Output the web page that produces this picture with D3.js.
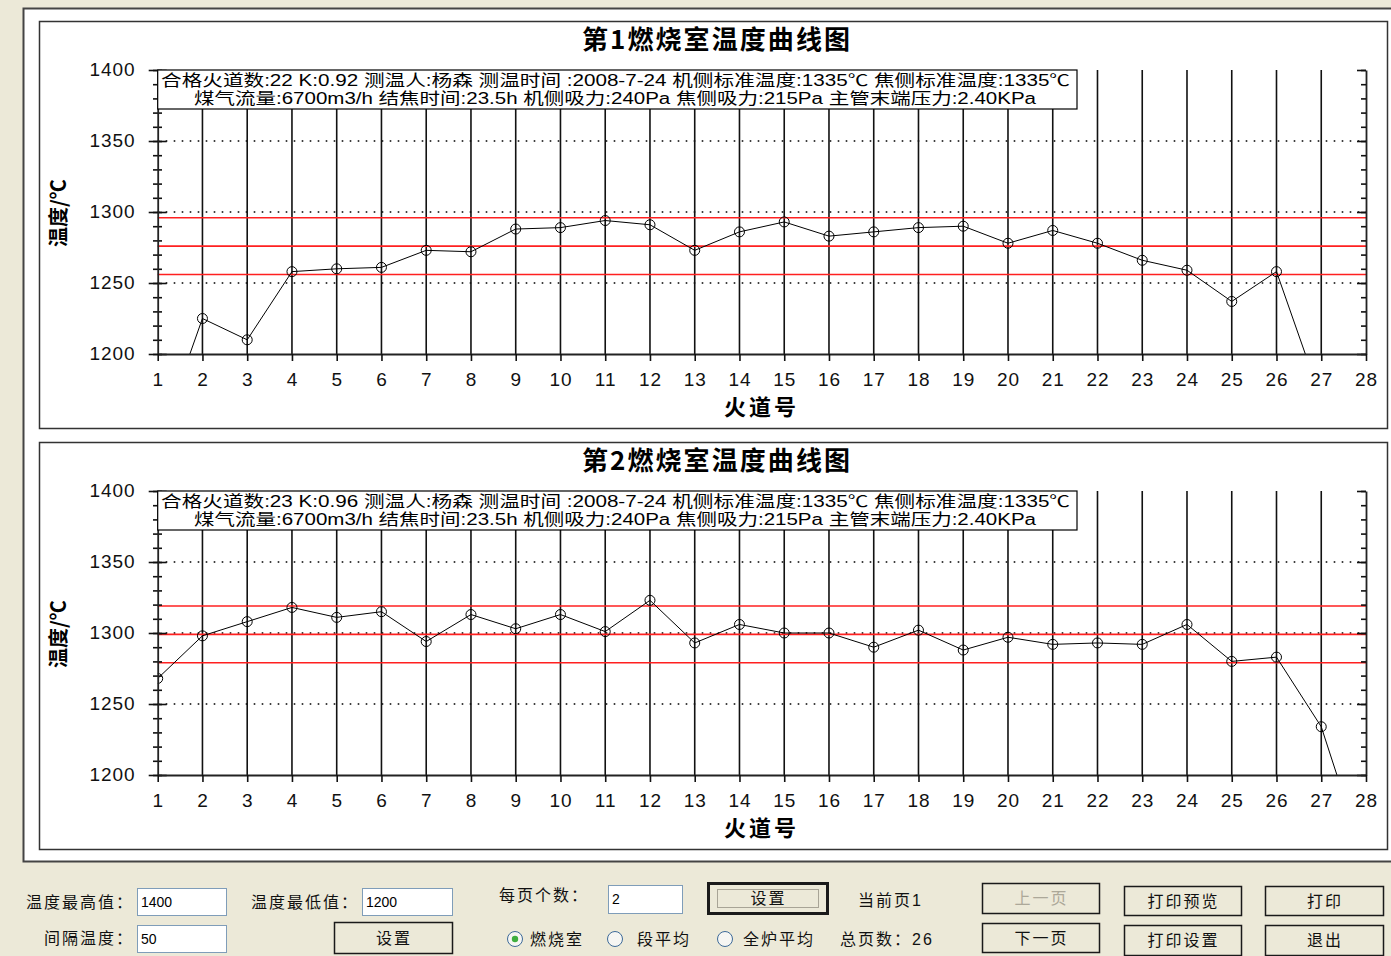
<!DOCTYPE html>
<html lang="zh-CN">
<head>
<meta charset="UTF-8">
<title>燃烧室温度曲线图</title>
<script src="https://cdn.jsdelivr.net/npm/d3@7"></script>
<style>
  body { margin: 0; background: #ECE9D8; overflow: hidden; }
  svg { display: block; }
  text { font-family: "Liberation Sans", Arial, "Noto Sans CJK SC", sans-serif; }
  .cjk { font-family: "Noto Sans CJK SC", sans-serif; }
</style>
</head>
<body>
<svg id="chart" width="1391" height="956"></svg>
<script>
// flue numbers on the x axis
const flueNos = [1, 2, 3, 4, 5, 6, 7, 8, 9, 10, 11, 12, 13, 14, 15, 16, 17, 18, 19, 20, 21, 22, 23, 24, 25, 26, 27, 28];

// measured temperatures (values below 1200 run off the plot)
const chamber1Temps = [1136, 1225, 1210, 1258, 1260, 1261, 1273, 1272, 1288, 1289, 1294, 1291, 1273, 1286,
                       1293, 1283, 1286, 1289, 1290, 1278, 1287, 1278, 1266, 1259, 1237, 1258, 1168];
const chamber2Temps = [1268, 1298, 1308, 1318, 1311, 1315, 1294, 1313, 1303, 1313, 1301, 1323, 1293, 1306,
                       1300, 1300, 1290, 1302, 1288, 1297, 1292, 1293, 1292, 1306, 1280, 1283, 1234, 1137];

// red limit lines (average +/- 20)
const chamber1Limits = [1256, 1276, 1296];
const chamber2Limits = [1279, 1299, 1319];

const yTickValues = [1200, 1250, 1300, 1350, 1400];
const gridValues = [1250, 1300, 1350];

const chamberTitles = ["第1燃烧室温度曲线图", "第2燃烧室温度曲线图"];
const chamber1Info = [
  "合格火道数:22  K:0.92 测温人:杨森 测温时间 :2008-7-24 机侧标准温度:1335℃ 焦侧标准温度:1335℃",
  "煤气流量:6700m3/h 结焦时间:23.5h 机侧吸力:240Pa 焦侧吸力:215Pa 主管末端压力:2.40KPa"
];
const chamber2Info = [
  "合格火道数:23  K:0.96 测温人:杨森 测温时间 :2008-7-24 机侧标准温度:1335℃ 焦侧标准温度:1335℃",
  "煤气流量:6700m3/h 结焦时间:23.5h 机侧吸力:240Pa 焦侧吸力:215Pa 主管末端压力:2.40KPa"
];

const svg = d3.select("#chart");

// outer white panel
svg.append("rect")
  .attr("x", 23.5).attr("y", 8.5)
  .attr("width", 1390).attr("height", 853)
  .attr("fill", "#fff").attr("stroke", "#444").attr("stroke-width", 2);

const minorTicks = d3.range(1200, 1401, 10);

function drawChamber(idx, oy, temps, limits, info) {
  const g = svg.append("g");
  const x = d3.scaleLinear().domain([1, 28]).range([157.7, 1366]);
  const y = d3.scaleLinear().domain([1200, 1400]).range([354 + oy, 70 + oy]);

  g.append("rect")
    .attr("x", 39.5).attr("y", 21.5 + oy)
    .attr("width", 1348).attr("height", 407)
    .attr("fill", "#fff").attr("stroke", "#333").attr("stroke-width", 1.5);

  g.append("text")
    .attr("class", "cjk")
    .attr("x", 716).attr("y", 49 + oy)
    .attr("text-anchor", "middle")
    .attr("font-size", 26).attr("font-weight", "bold")
    .attr("textLength", 268)
    .text(chamberTitles[idx]);

  g.append("text")
    .attr("class", "cjk")
    .attr("transform", `translate(66,${213 + oy}) rotate(-90)`)
    .attr("text-anchor", "middle")
    .attr("font-size", 20).attr("font-weight", "bold")
    .text("温度/℃");

  g.append("text")
    .attr("class", "cjk")
    .attr("x", 760).attr("y", 415 + oy)
    .attr("text-anchor", "middle")
    .attr("font-size", 22).attr("font-weight", "bold")
    .attr("textLength", 72)
    .text("火道号");

  const clipId = "clip" + idx;
  g.append("clipPath").attr("id", clipId)
    .append("rect")
    .attr("x", x(1)).attr("y", y(1400))
    .attr("width", x(28) - x(1)).attr("height", y(1200) - y(1400));

  // dotted horizontal grid
  g.selectAll(".hgrid").data(gridValues).join("line")
    .attr("x1", x(1)).attr("x2", x(28))
    .attr("y1", d => y(d)).attr("y2", d => y(d))
    .attr("stroke", "#000").attr("stroke-width", 1.6)
    .attr("stroke-dasharray", "1.6,6.4");

  // vertical grid at every flue
  g.selectAll(".vgrid").data(flueNos.slice(1, -1)).join("line")
    .attr("x1", d => x(d)).attr("x2", d => x(d))
    .attr("y1", y(1400)).attr("y2", y(1200))
    .attr("stroke", "#111").attr("stroke-width", 1.6);

  // red limit lines
  g.selectAll(".limit").data(limits).join("line")
    .attr("x1", x(1)).attr("x2", x(28))
    .attr("y1", d => y(d)).attr("y2", d => y(d))
    .attr("stroke", "#ff2020").attr("stroke-width", 1.6);

  const points = temps.map((t, i) => ({ flue: flueNos[i], temp: t }));
  const plot = g.append("g").attr("clip-path", `url(#${clipId})`);
  plot.append("path")
    .datum(points)
    .attr("fill", "none").attr("stroke", "#000").attr("stroke-width", 1)
    .attr("d", d3.line().x(d => x(d.flue)).y(d => y(d.temp)));
  plot.selectAll("circle").data(points).join("circle")
    .attr("cx", d => x(d.flue)).attr("cy", d => y(d.temp))
    .attr("r", 5)
    .attr("fill", "none").attr("stroke", "#000").attr("stroke-width", 1);

  const styleAxis = sel => {
    sel.selectAll("line").attr("stroke", "#111").attr("stroke-width", 1.6);
    sel.selectAll("path").attr("stroke", "#222").attr("stroke-width", 1.8);
    sel.selectAll("text").attr("font-family", "Liberation Sans, Arial, sans-serif")
      .attr("font-size", 19).attr("letter-spacing", 1).attr("fill", "#111");
  };

  // left axis: minor ticks, major ticks both sides, labels
  g.append("g").attr("transform", `translate(153,0)`)
    .call(d3.axisRight(y).tickValues(minorTicks).tickSize(9).tickFormat(""))
    .call(s => s.select(".domain").remove())
    .call(styleAxis);
  g.append("g").attr("transform", `translate(${x(1)},0)`)
    .call(d3.axisRight(y).tickValues(yTickValues).tickSize(9).tickFormat(""))
    .call(s => s.select(".domain").remove())
    .call(styleAxis);
  g.append("g").attr("transform", `translate(${x(1)},0)`)
    .call(d3.axisLeft(y).tickValues(yTickValues).tickSize(9).tickSizeOuter(0).tickPadding(13).tickFormat(d3.format("d")))
    .call(styleAxis)
    .call(s => s.selectAll("text").attr("dy", "0.28em"));

  // right axis with inward ticks
  g.append("g").attr("transform", `translate(${x(28)},0)`)
    .call(d3.axisLeft(y).tickValues(minorTicks).tickSize(5).tickSizeOuter(0).tickFormat(""))
    .call(styleAxis);
  g.append("g").attr("transform", `translate(${x(28)},0)`)
    .call(d3.axisLeft(y).tickValues(yTickValues).tickSize(9).tickSizeOuter(0).tickFormat(""))
    .call(s => s.select(".domain").remove())
    .call(styleAxis);

  // bottom axis
  g.append("g").attr("transform", `translate(0,${y(1200)})`)
    .call(d3.axisBottom(x).tickValues(flueNos).tickSize(7).tickSizeOuter(0).tickPadding(12))
    .call(styleAxis);

  // info box over the top of the plot
  const boxH = 39;
  g.append("rect")
    .attr("x", x(1)).attr("y", y(1400))
    .attr("width", 1077 - x(1)).attr("height", boxH)
    .attr("fill", "#fff").attr("stroke", "#000").attr("stroke-width", 1.2);
  g.append("text")
    .attr("x", 615.5).attr("y", y(1400) + 16)
    .attr("text-anchor", "middle").attr("font-size", 16)
    .attr("textLength", 909).attr("lengthAdjust", "spacingAndGlyphs")
    .text(info[0]);
  g.append("text")
    .attr("x", 615).attr("y", y(1400) + 34)
    .attr("text-anchor", "middle").attr("font-size", 16)
    .attr("textLength", 842).attr("lengthAdjust", "spacingAndGlyphs")
    .text(info[1]);
}

drawChamber(0, 0, chamber1Temps, chamber1Limits, chamber1Info);
drawChamber(1, 421, chamber2Temps, chamber2Limits, chamber2Info);

// ---- control strip below the charts ----
const ctrl = svg.append("g").attr("class", "cjk").attr("font-size", 16);

const labels = [
  ["温度最高值：", 26, 908], ["温度最低值：", 251, 908], ["间隔温度：", 44, 944],
  ["每页个数：", 499, 901], ["当前页1", 858, 906],
  ["燃烧室", 530, 945], ["段平均", 637, 945], ["全炉平均", 743, 945], ["总页数：26", 840, 945]
];
ctrl.selectAll(".lbl").data(labels).join("text")
  .attr("x", d => d[1]).attr("y", d => d[2])
  .attr("letter-spacing", 2).attr("fill", "#111")
  .text(d => d[0]);

const inputs = [[137, 888, 89, 27, "1400"], [362, 888, 90, 27, "1200"], [137, 925, 89, 27, "50"], [608, 885, 74, 28, "2"]];
inputs.forEach(d => {
  ctrl.append("rect").attr("x", d[0] + 0.5).attr("y", d[1] + 0.5)
    .attr("width", d[2]).attr("height", d[3])
    .attr("fill", "#fff").attr("stroke", "#7f9db9").attr("stroke-width", 1);
  ctrl.append("text").attr("x", d[0] + 4).attr("y", d[1] + d[3] / 2 + 5)
    .attr("font-family", "Liberation Sans, Arial, sans-serif").attr("font-size", 14)
    .text(d[4]);
});

const buttons = [
  [334, 922, 118, 31, "设置", "normal"], [708, 883, 119, 30, "设置", "default"],
  [982, 883, 117, 30, "上一页", "disabled"], [982, 923, 117, 29, "下一页", "normal"],
  [1124, 886, 117, 29, "打印预览", "normal"], [1124, 925, 117, 30, "打印设置", "normal"],
  [1265, 886, 118, 29, "打印", "normal"], [1265, 925, 118, 30, "退出", "normal"]
];
buttons.forEach(d => {
  const isDefault = d[5] === "default";
  ctrl.append("rect").attr("x", d[0] + 0.5).attr("y", d[1] + 0.5)
    .attr("width", d[2]).attr("height", d[3])
    .attr("fill", "#ECE9D8").attr("stroke", "#1a1a1a").attr("stroke-width", isDefault ? 3 : 1.5);
  if (isDefault) {
    ctrl.append("rect").attr("x", d[0] + 9.5).attr("y", d[1] + 6.5)
      .attr("width", d[2] - 18).attr("height", d[3] - 12)
      .attr("fill", "none").attr("stroke", "#a8a496").attr("stroke-width", 1);
  }
  ctrl.append("text").attr("x", d[0] + d[2] / 2 + 1).attr("y", d[1] + d[3] / 2 + 6)
    .attr("text-anchor", "middle").attr("letter-spacing", 2)
    .attr("fill", d[5] === "disabled" ? "#aca899" : "#111")
    .text(d[4]);
});

const radios = [[515, 939, true], [615, 939, false], [725, 939, false]];
radios.forEach(d => {
  ctrl.append("circle").attr("cx", d[0]).attr("cy", d[1]).attr("r", 7.5)
    .attr("fill", "#f6f6f3").attr("stroke", "#3d6a99").attr("stroke-width", 1);
  if (d[2]) {
    ctrl.append("circle").attr("cx", d[0]).attr("cy", d[1]).attr("r", 3.2)
      .attr("fill", "#3fae3f");
  }
});
</script>
</body>
</html>
